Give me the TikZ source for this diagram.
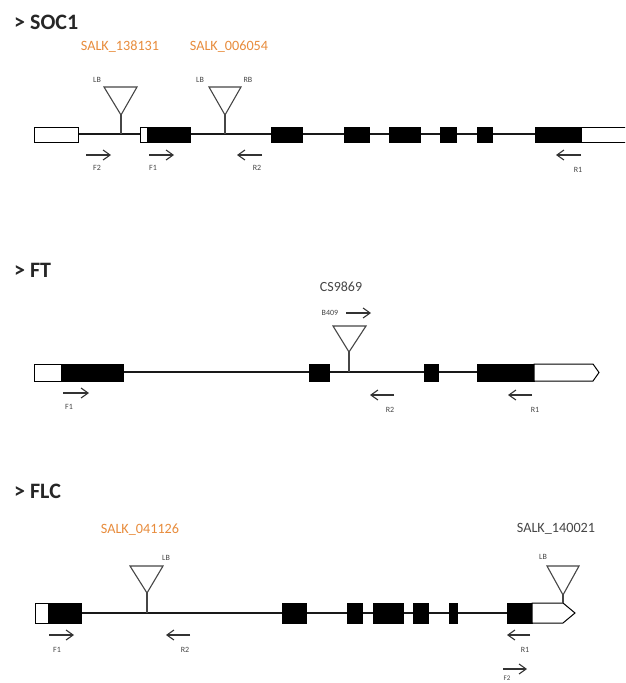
\documentclass[tikz,border=0pt]{standalone}
\usepackage{fontspec}
\setmainfont{Carlito}
\usetikzlibrary{arrows.meta}
\definecolor{salk}{RGB}{232,140,60}
\definecolor{ink}{RGB}{70,70,70}
\tikzset{
  intron/.style={line width=1.2pt, draw=black!90},
  exon/.style={fill=black, draw=black, line width=0.9pt},
  utr/.style={fill=white, draw=black, line width=1pt},
  tdna/.style={draw=ink, fill=white, line width=1.1pt, line join=miter},
  stem/.style={draw=ink, line width=1.1pt},
  primer/.style={-{Straight Barb[length=7pt,width=10pt]}, line width=1.1pt, draw=black!80},
  genename/.style={anchor=west, font=\fontsize{22}{24}\selectfont\bfseries, text=black!85, inner sep=0pt},
  allele/.style={font=\fontsize{14.2}{15}\selectfont, inner sep=0pt},
  tiny/.style={font=\fontsize{8}{9}\selectfont, text=ink, inner sep=0pt},
}
\begin{document}
\begin{tikzpicture}[x=1pt,y=-1pt]
\clip (0,0) rectangle (625,683);
\fill[white] (0,0) rectangle (625,683);

% ---------------- SOC1 ----------------
\node[genename] (soc) at (14,22) {> SOC1};
\draw[intron] (78,134) -- (535,134);
\draw[utr] (34,127) rectangle (78,142);
\draw[utr] (140,127) rectangle (147,142);
\draw[exon] (147,127) rectangle (190,142);
\foreach \a/\b in {271/302, 344/369, 389/420, 440/456, 477/492, 535/581}
  \draw[exon] (\a,127) rectangle (\b,142);
\draw[utr] (581,127) rectangle (640,142);

\node[allele, text=salk] (s1) at (120,47) {SALK\_138131};
\node[allele, text=salk] (s2) at (229,47) {SALK\_006054};
\draw[tdna] (104,87) -- (137,87) -- (121,115) -- cycle;
\coordinate (t1) at (121,115); \coordinate (g1) at (121,134);
\draw[stem] (t1) -- (g1);
\draw[tdna] (209,87) -- (241,87) -- (225,115) -- cycle;
\coordinate (t2) at (225,115); \coordinate (g2) at (225,134);
\draw[stem] (t2) -- (g2);
\node[tiny] (lb1) at (97,80) {LB};
\node[tiny] (lb2) at (200,80) {LB};
\node[tiny] (rb2) at (248,80) {RB};

\coordinate (f2a) at (86,155);  \coordinate (f2b) at (111,155);
\coordinate (f1a) at (149,155); \coordinate (f1b) at (174,155);
\coordinate (r2a) at (262,155); \coordinate (r2b) at (237,155);
\coordinate (r1a) at (581,155); \coordinate (r1b) at (556,155);
\draw[primer] (f2a) -- (f2b);
\draw[primer] (f1a) -- (f1b);
\draw[primer] (r2a) -- (r2b);
\draw[primer] (r1a) -- (r1b);
\node[tiny] (lf2) at (97,168) {F2};
\node[tiny] (lf1) at (153,168) {F1};
\node[tiny] (lr2) at (257,168) {R2};
\node[tiny] (lr1) at (578,170) {R1};

% ---------------- FT ----------------
\node[genename] (ft) at (14,270) {> FT};
\draw[intron] (123,372) -- (477,372);
\draw[utr] (34,364) rectangle (61,381);
\draw[exon] (61,364) rectangle (123,381);
\foreach \a/\b in {309/329, 424/438, 477/534}
  \draw[exon] (\a,364) rectangle (\b,381);
\draw[utr] (534,364) -- (593,364) -- (599,372.5) -- (593,381) -- (534,381) -- cycle;

\node[allele, text=ink, font=\fontsize{14}{15}\selectfont] (cs) at (341,287) {CS9869};
\node[tiny] (b409) at (330,313) {B409};
\coordinate (ba) at (346,313); \coordinate (bb) at (371,313);
\draw[primer] (ba) -- (bb);
\draw[tdna] (333,326) -- (366,326) -- (349,352) -- cycle;
\coordinate (t3) at (349,352); \coordinate (g3) at (349,372);
\draw[stem] (t3) -- (g3);

\coordinate (ff1a) at (63,393);  \coordinate (ff1b) at (89,393);
\coordinate (fr2a) at (394,395); \coordinate (fr2b) at (370,395);
\coordinate (fr1a) at (532,395); \coordinate (fr1b) at (508,395);
\draw[primer] (ff1a) -- (ff1b);
\draw[primer] (fr2a) -- (fr2b);
\draw[primer] (fr1a) -- (fr1b);
\node[tiny] (lff1) at (69,407) {F1};
\node[tiny] (lfr2) at (390,410) {R2};
\node[tiny] (lfr1) at (535,410) {R1};

% ---------------- FLC ----------------
\node[genename] (flc) at (14,491) {> FLC};
\draw[intron] (81,613) -- (507,613);
\draw[utr] (35,603) rectangle (48,623);
\draw[exon] (48,603) rectangle (81,623);
\foreach \a/\b in {282/306, 347/362, 373/403, 413/428, 449/457, 507/532}
  \draw[exon] (\a,603) rectangle (\b,623);
\draw[utr] (532,603) -- (563,603) -- (575,613) -- (563,623) -- (532,623) -- cycle;

\node[allele, text=salk] (s3) at (140,530) {SALK\_041126};
\draw[tdna] (130,566) -- (163,566) -- (147,593) -- cycle;
\coordinate (t4) at (147,593); \coordinate (g4) at (147,613);
\draw[stem] (t4) -- (g4);
\node[tiny] (lb4) at (166,558) {LB};

\node[allele, text=ink] (s4) at (556,529) {SALK\_140021};
\draw[tdna] (547,566) -- (579,566) -- (563,595) -- cycle;
\coordinate (t5) at (563,595); \coordinate (g5) at (563,603);
\draw[stem] (t5) -- (g5);
\node[tiny] (lb5) at (543,557) {LB};

\coordinate (cf1a) at (49,635);  \coordinate (cf1b) at (74,635);
\coordinate (cr2a) at (190,635); \coordinate (cr2b) at (166,635);
\coordinate (cr1a) at (530,635); \coordinate (cr1b) at (507,635);
\coordinate (cf2a) at (503,669); \coordinate (cf2b) at (527,669);
\draw[primer] (cf1a) -- (cf1b);
\draw[primer] (cr2a) -- (cr2b);
\draw[primer] (cr1a) -- (cr1b);
\draw[primer] (cf2a) -- (cf2b);
\node[tiny] (lcf1) at (57,650) {F1};
\node[tiny] (lcr2) at (185,650) {R2};
\node[tiny] (lcr1) at (525,650) {R1};
\node[tiny, font=\fontsize{7}{8}\selectfont] (lcf2) at (507,678) {F2};
\end{tikzpicture}
\end{document}
